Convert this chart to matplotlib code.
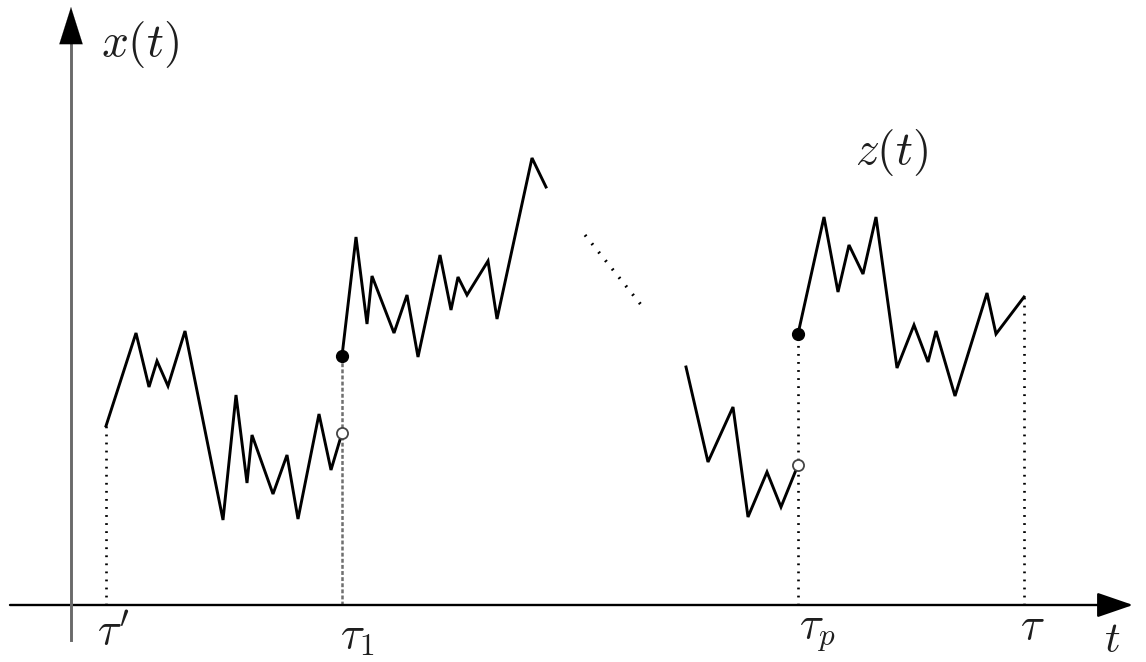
import matplotlib
matplotlib.use("Agg")
import matplotlib.pyplot as plt

plt.rcParams['mathtext.fontset'] = 'cm'
plt.rcParams['lines.scale_dashes'] = False

# ---- data (time positions, heights above the t-axis) ----
tau_prime, tau_1, tau_p, tau_end = 106, 342, 798, 1024

seg1_t = [106, 136, 149, 157, 168, 185, 223, 236, 247, 252, 273, 287, 298, 319, 331, 342]
seg1_x = [179, 272, 218, 244, 219, 274, 85, 210, 122, 170, 111, 150, 86, 191, 135, 172]

seg2_t = [342, 356, 367, 372, 394, 407, 418, 440, 451, 458, 467, 488, 497, 532, 546]
seg2_x = [249, 368, 281, 329, 272, 310, 248, 350, 295, 328, 310, 344, 286, 447, 418]

seg3_t = [686, 708, 733, 748, 767, 781, 798]
seg3_x = [238, 143, 198, 88, 133, 98, 140]

seg4_t = [798, 824, 838, 849, 863, 876, 897, 914, 928, 936, 955, 987, 996, 1024]
seg4_x = [271, 388, 313, 360, 331, 388, 237, 280, 243, 274, 209, 312, 271, 308]

gap_t = [585, 646]
gap_x = [370, 294]

tick_labels = [r"$\tau'$", r"$\tau_1$", r"$\tau_p$", r"$\tau$"]

# ---- figure ----
fig = plt.figure(figsize=(11.46, 6.62), dpi=100)
ax = fig.add_axes([0, 0, 1, 1])
ax.set_xlim(0, 1146)
ax.set_ylim(-57, 605)
ax.axis('off')

lw = 2.1
for t, x in [(seg1_t, seg1_x), (seg2_t, seg2_x), (seg3_t, seg3_x), (seg4_t, seg4_x)]:
    ax.plot(t, x, color='black', lw=lw, solid_joinstyle='miter', zorder=3)

# ellipsis
ax.plot(gap_t, gap_x, color='black', lw=2.3, linestyle=(0, (1.3, 6.5)), zorder=3)

# vertical guide lines
ax.plot([tau_prime, tau_prime], [0, seg1_x[0]], color='black', lw=1.9,
        linestyle=(0, (1.3, 4.5)), zorder=2)
ax.plot([tau_1, tau_1], [0, seg2_x[0]], color='#6f6f6f', lw=1.8,
        linestyle=(0, (2.8, 1.6)), zorder=2)
ax.plot([tau_p, tau_p], [0, seg4_x[0]], color='black', lw=1.9,
        linestyle=(0, (1.3, 4.5)), zorder=2)
ax.plot([tau_end, tau_end], [0, seg4_x[-1]], color='black', lw=1.9,
        linestyle=(0, (1.3, 4.5)), zorder=2)

# jump markers
ax.plot([tau_1, tau_p], [seg2_x[0], seg4_x[0]], 'o', color='black', ms=8.5, zorder=4)
ax.plot([tau_1, tau_p], [seg1_x[-1], seg3_x[-1]], 'o', mfc='white', mec='#444444',
        mew=1.3, ms=8, zorder=4)

# axes
ax.annotate('', xy=(1133, 0), xytext=(10, 0),
            arrowprops=dict(arrowstyle='-|>,head_length=1.6,head_width=0.55',
                            color='black', lw=1.7, mutation_scale=14,
                            shrinkA=0, shrinkB=0), zorder=5)
ax.plot([71, 71], [-35, 570], color='#6a6a6a', lw=2.1, zorder=5)
ax.annotate('', xy=(71, 598), xytext=(71, 560),
            arrowprops=dict(arrowstyle='-|>,head_length=1.9,head_width=0.6',
                            color='black', lw=0.1, mutation_scale=14,
                            shrinkA=0, shrinkB=0), zorder=6)

# labels
txt_c = '#1e1e1e'
ax.text(140, 560, r"$x(t)$", fontsize=34, ha='center', va='center', color=txt_c)
ax.text(892, 453, r"$z(t)$", fontsize=34, ha='center', va='center', color=txt_c)
ax.text(1112, -35, r"$t$", fontsize=31, ha='center', va='center', color=txt_c)

tick_pos = [tau_prime, tau_1, tau_p, tau_end]
tick_off = [(7, -28), (15, -32), (19, -27), (8, -22)]
for p, lab, (dx, dy) in zip(tick_pos, tick_labels, tick_off):
    ax.text(p + dx, dy, lab, fontsize=32, ha='center', va='center', color=txt_c)

fig.savefig('out.png', dpi=100)
